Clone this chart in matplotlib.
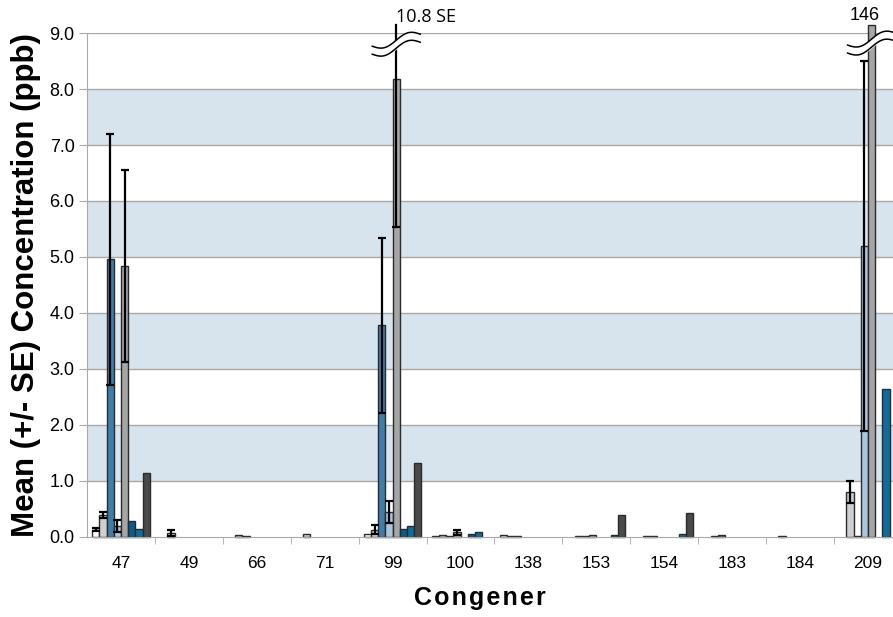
import numpy as np
import matplotlib.pyplot as plt

nan = np.nan

# congener groups on the x axis
congeners = ['47', '49', '66', '71', '99', '100', '138', '153', '154', '183', '184', '209']

# mean concentrations (ppb), one list per bar series in group order
s1 = [0.13, nan, nan, nan, 0.06, 0.02, 0.03, nan, nan, nan, nan, nan]
s2 = [0.39, 0.07, 0.03, 0.05, 0.13, 0.04, 0.02, 0.01, 0.01, 0.01, 0.02, 0.80]
s3 = [4.96, nan, 0.02, nan, 3.78, 0.01, 0.01, 0.01, 0.01, 0.03, nan, 0.01]
s4 = [0.20, nan, nan, nan, 0.45, 0.08, nan, 0.04, nan, nan, nan, 5.20]
s5 = [4.84, nan, nan, nan, 8.17, nan, nan, nan, nan, nan, nan, 146.0]
s6 = [0.28, nan, nan, nan, 0.15, 0.06, nan, nan, nan, nan, nan, nan]
s7 = [0.15, nan, nan, nan, 0.20, 0.08, nan, 0.04, 0.06, nan, nan, 2.64]
s8 = [1.14, nan, nan, nan, 1.33, nan, nan, 0.40, 0.42, nan, nan, nan]

# standard errors
se1 = [0.03, nan, nan, nan, nan, nan, nan, nan, nan, nan, nan, nan]
se2 = [0.05, 0.05, nan, nan, 0.08, nan, nan, nan, nan, nan, nan, 0.20]
se3 = [2.24, nan, nan, nan, 1.56, nan, nan, nan, nan, nan, nan, nan]
se4 = [0.11, nan, nan, nan, 0.20, 0.04, nan, nan, nan, nan, nan, 3.30]
se5 = [1.72, nan, nan, nan, 2.63, nan, nan, nan, nan, nan, nan, nan]

series = [s1, s2, s3, s4, s5, s6, s7, s8]
errors = [se1, se2, se3, se4, se5, None, None, None]
colors = ['#ffffff', '#cfcfcf', '#3d7eab', '#a9c6df', '#a6a6a6', '#0c5b88', '#0f6c9c', '#4a4a4a']

ymax = 9.0
clip_top = 9.15   # broken bars / error bars are drawn up to here

plt.rcParams['font.family'] = ['Liberation Sans', 'DejaVu Sans']

fig = plt.figure(figsize=(8.93, 6.17), dpi=100)
ax = fig.add_axes([0.0975, 0.1297, 0.9125, 0.8168])

# shaded bands + grid
for lo in [1, 3, 5, 7]:
    ax.axhspan(lo, lo + 1, color='#d7e3ed', zorder=0, lw=0)
for y in range(1, 10):
    ax.axhline(y, color='#a9a9a9', lw=1, zorder=0.5)

x = np.arange(len(congeners))
w = 0.106
for k, (vals, se, c) in enumerate(zip(series, errors, colors)):
    pos = x + (k - 3.5) * w
    v = np.array(vals, dtype=float)
    shown = np.minimum(v, clip_top)
    ax.bar(pos, shown, w, color=c, edgecolor='#2b2b2b', lw=1, zorder=2, clip_on=False)
    if se is None:
        continue
    e = np.array(se, dtype=float)
    for xi, vi, ei in zip(pos, v, e):
        if np.isnan(ei):
            continue
        hi = vi + ei
        if hi > ymax:
            # error bar runs off the top, no upper cap
            ax.plot([xi, xi], [vi - ei, clip_top], color='k', lw=1.6, zorder=3, clip_on=False)
            ax.plot([xi], [vi - ei], marker='_', color='k', ms=6, mew=1.6, zorder=3)
        else:
            ax.errorbar(xi, vi, yerr=ei, fmt='none', ecolor='k', elinewidth=1.6,
                        capsize=3, capthick=1.6, zorder=3)


def axis_break(xc, yc):
    # two wavy strokes with white between them, in pixel offsets
    px_x = 67.93
    px_y = 56.0
    t = np.linspace(-24, 24, 60)
    upper = 0.25 * t + 4.5 * np.sin(np.pi * t / 24) + 4
    lower = upper - 8
    xs = xc + t / px_x
    ax.fill_between(xs, yc + lower / px_y, yc + upper / px_y, color='white', zorder=5, clip_on=False)
    ax.plot(xs, yc + upper / px_y, color='k', lw=1.1, zorder=6, clip_on=False)
    ax.plot(xs, yc + lower / px_y, color='k', lw=1.1, zorder=6, clip_on=False)


axis_break(4 + 0.5 * w, 8.80)
axis_break(11 + 0.5 * w, 8.82)
ax.text(4 + 0.45 * w, 9.28, '10.8 SE', fontsize=13, family=['Open Sans', 'DejaVu Sans'],
        ha='left', va='center')
ax.text(10.95, 9.32, '146', fontsize=13, ha='center', va='center')

ax.set_xlim(-0.5, len(congeners) - 0.5)
ax.set_ylim(0, ymax)
ax.set_yticks(np.arange(0, 9.5, 1.0))
ax.set_yticklabels([f'{v:.1f}' for v in np.arange(0, 9.5, 1.0)], fontsize=13)
ax.set_xticks(x)
ax.set_xticklabels(congeners, fontsize=12.5)
ax.set_xticks(np.arange(0.5, len(congeners) - 0.5, 1), minor=True)
ax.tick_params(axis='x', which='major', length=0, pad=14)
ax.tick_params(axis='x', which='minor', length=5, color='#a9a9a9')
ax.tick_params(axis='y', length=6, color='#a9a9a9', pad=3)

for s in ['top', 'right']:
    ax.spines[s].set_visible(False)
ax.spines['left'].set_color('#a9a9a9')
ax.spines['bottom'].set_color('#a9a9a9')

ax.set_ylabel('Mean (+/- SE) Concentration (ppb)', fontsize=22.5, fontweight='bold')
ax.yaxis.set_label_coords(-0.056, 0.5)
ax.set_xlabel('C o n g e n e r'.replace(' ', '\u200a'), fontsize=18, fontweight='bold')
ax.xaxis.set_label_coords((480 - 87) / 815.0, -0.098)

fig.savefig('out.png', dpi=100)
